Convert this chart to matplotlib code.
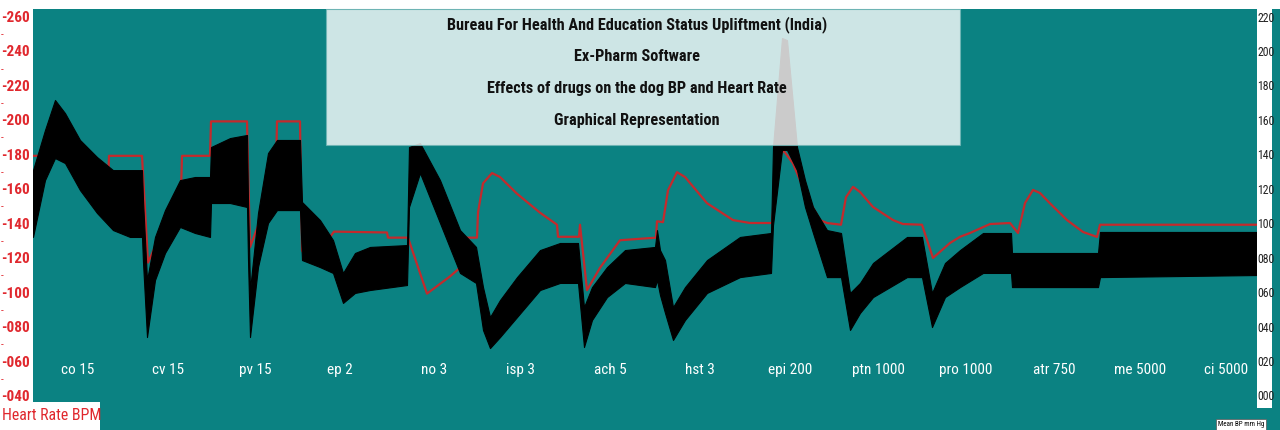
import os
import matplotlib
matplotlib.use("Agg")
import matplotlib.pyplot as plt
import matplotlib.font_manager as fm
from matplotlib import transforms
from matplotlib.patches import Rectangle

# ---------------- data ----------------
# time axis (recording units) for the mean-BP trace, with systolic / diastolic envelope (mm Hg)
bp_time = [0, 12, 22, 32, 47, 64, 80, 97, 109,
           110, 114, 122, 132, 147, 162, 177,
           178, 197, 214, 215, 217, 225, 235, 244, 267,
           269, 287, 300, 310, 322, 337, 374,
           376, 387, 407, 427, 443,
           450, 457, 467, 484, 507, 527, 545,
           551, 559, 574, 592, 622,
           624, 627, 632, 640, 652, 674, 707, 738,
           740, 749, 754, 764, 772, 780, 794, 808,
           817, 827, 840, 874, 889,
           899, 912, 927, 950, 978,
           979, 1065,
           1067, 1224]
bp_sys = [131.7, 155.0, 172.4, 164.8, 149.2, 139.3, 131.7, 131.7, 131.7,
          114.3, 67.9, 92.9, 108.5, 125.9, 127.7, 127.7,
          145.1, 150.3, 152.1, 114.3, 62.1, 106.8, 141.6, 149.2, 149.2,
          113.2, 102.7, 91.1, 72.0, 83.6, 87.1, 88.2,
          145.1, 147.4, 125.9, 96.9, 87.1,
          63.8, 46.4, 56.3, 69.6, 85.3, 89.4, 89.4,
          52.2, 63.8, 75.4, 85.3, 87.1,
          96.9, 85.3, 79.5, 52.2, 63.8, 79.5, 92.9, 95.2,
          145.1, 208.4, 207.2, 145.1, 125.9, 110.3, 96.9, 95.2,
          60.4, 66.2, 77.8, 92.9, 92.9,
          60.4, 77.8, 85.3, 95.2, 95.2,
          83.6, 83.6,
          95.8, 95.8]
bp_dia = [92.9, 125.9, 138.7, 135.8, 120.1, 106.8, 96.9, 92.9, 92.9,
          78.3, 34.8, 67.9, 83.6, 98.7, 95.2, 92.9,
          112.6, 112.6, 110.3, 79.5, 34.8, 75.4, 101.0, 108.5, 108.5,
          79.5, 75.4, 72.0, 54.6, 60.4, 62.1, 65.0,
          110.3, 130.0, 101.0, 72.0, 66.2,
          38.9, 28.4, 34.8, 46.4, 62.1, 66.2, 66.2,
          29.0, 44.7, 58.0, 66.2, 63.8,
          67.9, 59.2, 48.8, 33.1, 44.7, 60.4, 69.6, 72.0,
          99.8, 143.4, 143.4, 131.7, 110.3, 95.2, 69.6, 69.6,
          38.9, 48.8, 58.0, 69.6, 69.6,
          40.6, 58.0, 63.8, 72.0, 72.0,
          63.8, 63.8,
          69.6, 70.8]

# heart rate trace (beats per minute)
hr_time = [0, 25, 64, 75, 76, 109,
           115, 132, 148, 149, 177,
           178, 214, 217, 232, 243, 244, 267,
           269, 277, 287, 301, 354, 355, 375,
           394, 417, 427, 432, 444,
           445, 450, 459, 467, 484, 507, 524, 525, 546,
           547, 554, 567, 587, 623,
           624, 630, 635, 644, 652, 674, 700, 717, 739,
           744, 750, 760, 774, 787, 794, 808,
           813, 820, 827, 840, 860, 870, 889,
           900, 917, 927, 937, 957, 977,
           985, 992, 1000, 1007, 1017, 1034, 1050, 1064,
           1067, 1224]
hr_bpm = [180, 180, 167, 164, 180, 180,
          118, 140, 160, 180, 180,
          200, 200, 127, 150, 170, 200, 200,
          125, 118, 125, 136, 135.5, 132.5, 132.5,
          100, 110, 115, 132.5, 132.5,
          147, 164, 170, 167.7, 158, 147, 140, 133, 133,
          140, 102, 115, 131, 132.5,
          142, 141.5, 160, 170.5, 167.7, 152.5, 142.7, 141, 141,
          174.6, 183.4, 175.6, 156, 142.7, 141, 140,
          156, 162, 159, 150.3, 142.7, 140.4, 140,
          120.7, 129.4, 133, 135.2, 140.4, 141,
          135.2, 152.6, 160.2, 158.4, 152.4, 142.7, 135.8, 132.9,
          140, 140]

# drug administered in each block and where its label sits on the time axis
drug_names = ["co 15", "cv 15", "pv 15", "ep 2", "no 3", "isp 3", "ach 5",
              "hst 3", "epi 200", "ptn 1000", "pro 1000", "atr 750",
              "me 5000", "ci 5000"]
drug_times = [45, 135, 222, 307, 401, 488, 577, 667, 757, 845, 933, 1021,
              1107, 1193]

hr_ticks = list(range(40, 261, 20))
bp_ticks = list(range(0, 221, 20))

title_lines = ["Bureau For Health And Education Status Upliftment (India)",
               "Ex-Pharm Software",
               "Effects of drugs on the dog BP and Heart Rate",
               "Graphical Representation"]

# ---------------- fonts ----------------
NARROW_PREFS = ["liberationsansnarrow", "robotocondensed", "notosans-condensed",
                "notosanscondensed", "dejavusanscondensed", "opensans-condensed",
                "opensanscondensed", "notosans-semicondensed", "opensans-semicondensed"]


def _weight_num(w):
    if isinstance(w, (int, float)):
        return int(w)
    return {"bold": 700, "semibold": 600, "demibold": 600, "medium": 500,
            "light": 300}.get(str(w).lower(), 400)


def narrow_font(weight):
    cands = []
    for f in fm.fontManager.ttflist:
        base = os.path.basename(f.fname).lower().replace("_", "").replace(" ", "")
        if f.style != "normal" or "italic" in base or "oblique" in base:
            continue
        for rank, p in enumerate(NARROW_PREFS):
            if base.startswith(p):
                cands.append((rank, abs(_weight_num(f.weight) - weight), f.fname))
                break
    if cands:
        return fm.FontProperties(fname=sorted(cands)[0][2]), True
    fallback = "Liberation Sans" if any(f.name == "Liberation Sans"
                                        for f in fm.fontManager.ttflist) else "DejaVu Sans"
    return fm.FontProperties(family=fallback,
                             weight="bold" if weight >= 600 else "normal"), False


FONT_REG, HAVE_NARROW = narrow_font(400)
FONT_SEMI, _ = narrow_font(600)
FONT_BOLD, _ = narrow_font(700)
K = 1.0 if HAVE_NARROW else 0.82   # shrink text when only a wide face is present


def fp(base, size):
    p = base.copy()
    p.set_size(size * K)
    return p


# ---------------- styling ----------------
W, H = 1280, 430
TEAL = "#0b8282"
HR_RED = "#c42a2c"
TICK_RED = "#e0282e"


def fx(px):
    return px / W


def fy(py):
    return 1 - py / H


fig = plt.figure(figsize=(W / 100, H / 100), dpi=100, facecolor=TEAL)

# plotting area: left scale 40..260 bpm, right scale 0..220 mm Hg
ax = fig.add_axes([fx(33), fy(397), fx(1224), 379 / H], facecolor=TEAL)
ax.set_xlim(0, 1224)
ax.set_ylim(40, 260)
ax.set_axis_off()
ax2 = ax.twinx()
ax2.set_ylim(0, 220)
ax2.set_axis_off()

ax.plot(hr_time, hr_bpm, color=HR_RED, lw=1.6, zorder=2, solid_joinstyle="round")
ax.set_zorder(1)
ax2.set_zorder(2)
ax2.fill_between(bp_time, bp_dia, bp_sys, color="black", lw=0.8, edgecolor="black")

# white margins holding the scales
fig.patches.append(Rectangle((0, fy(9)), 1, 9 / H, transform=fig.transFigure,
                             facecolor="white", edgecolor="none", zorder=5))
fig.patches.append(Rectangle((0, fy(402)), fx(33), 393 / H, transform=fig.transFigure,
                             facecolor="white", edgecolor="none", zorder=5))
fig.patches.append(Rectangle((0, 0), fx(100), 28 / H, transform=fig.transFigure,
                             facecolor="white", edgecolor="none", zorder=5))
fig.patches.append(Rectangle((fx(1257), fy(408)), fx(15), 399 / H, transform=fig.transFigure,
                             facecolor="white", edgecolor="none", zorder=5))

# translucent title panel
fig.patches.append(Rectangle((fx(326), fy(145)), fx(634), 136 / H, transform=fig.transFigure,
                             facecolor="white", alpha=0.8, edgecolor="#6fb5b5", lw=0.8,
                             zorder=6))
for i, line in enumerate(title_lines):
    fig.text(fx(637), fy(25 + 31.7 * i), line, ha="center", va="center",
             fontproperties=fp(FONT_SEMI, 11.7), color="#111111", zorder=7)

# left (heart rate) scale
lt = transforms.blended_transform_factory(fig.transFigure, ax.transData)
for v in hr_ticks:
    fig.text(fx(1), v, f"-{v:03d}", transform=lt, ha="left", va="center",
             fontproperties=fp(FONT_BOLD, 11), color=TICK_RED, zorder=8)
for v in hr_ticks[:-1]:
    fig.text(fx(1), v + 10, "-", transform=lt, ha="left", va="center",
             fontproperties=fp(FONT_REG, 8), color=TICK_RED, zorder=8)

# right (blood pressure) scale
rt = transforms.blended_transform_factory(fig.transFigure, ax2.transData)
for v in bp_ticks:
    fig.text(fx(1257.5), v, f"{v:03d}", transform=rt, ha="left", va="center",
             fontproperties=fp(FONT_REG, 8.5), color="#222222", zorder=8)

# drug labels along the bottom
for name, t in zip(drug_names, drug_times):
    ax.text(t, (397 - 370) / 379, name, transform=ax.get_xaxis_transform(),
            ha="center", va="center", fontproperties=fp(FONT_REG, 11),
            color="white", zorder=9)

fig.text(fx(2), fy(416), "Heart Rate BPM", ha="left", va="center",
         fontproperties=fp(FONT_REG, 11.4), color=TICK_RED, zorder=8)
fig.text(fx(1241), fy(424.5), "Mean BP mm Hg", ha="center", va="center",
         fontproperties=fp(FONT_REG, 5), color="black", zorder=8,
         bbox=dict(boxstyle="square,pad=0.25", facecolor="white", edgecolor="#555555", lw=0.5))

fig.savefig("out.png", dpi=100, facecolor=TEAL)
